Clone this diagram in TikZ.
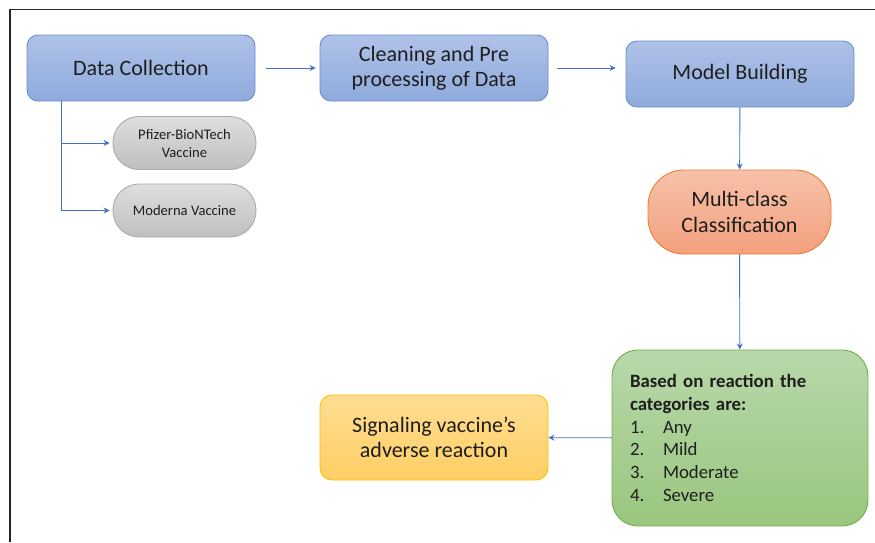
\documentclass[tikz,border=0pt]{standalone}
\usepackage{fontspec}
\setmainfont{Carlito}
\usetikzlibrary{arrows.meta}
\definecolor{lineblue}{HTML}{4472C4}
\definecolor{txt}{HTML}{1E1E1E}

\begin{document}
\begin{tikzpicture}[x=1pt,y=-1pt]
    \tikzstyle{box}=[draw, line width=0.9pt, text=txt, align=center, inner sep=2pt]
    \tikzstyle{bluebox}=[box, rounded corners=11pt, draw=lineblue!80, top color=blue!5!lineblue!42, bottom color=lineblue!60,
      minimum width=228pt, minimum height=66pt, font=\fontsize{22}{24.5}\selectfont]
    \tikzstyle{graybox}=[box, rounded corners=26pt, draw=black!33, top color=black!13, bottom color=black!25,
      minimum width=143pt, minimum height=53pt, font=\fontsize{14.6}{18}\selectfont]
    \tikzstyle{link}=[draw=lineblue, line width=0.9pt, -{Stealth[length=6pt,width=6pt]}]
    \useasboundingbox (0,0) rectangle (875,542);
    % frame
    \draw[line width=1.4pt, black!85] (875,9.5) -- (10,9.5) -- (10,542);
    % top row
    \node[bluebox] (collect) at (141,68) {Data Collection};
    \node[bluebox] (clean) at (434,68) {Cleaning and Pre\\processing of Data};
    \node[bluebox] (model) at (740,74) {Model Building};
    % vaccines
    \node[graybox] (pfizer) at (184.5,143) {Pfizer-BioNTech\\Vaccine};
    \node[graybox] (moderna) at (184.5,210.5) {Moderna Vaccine};
    % classification
    \node[box, rounded corners=36pt, draw={rgb,255:red,237;green,125;blue,49}, top color={rgb,255:red,246;green,194;blue,170},
      bottom color={rgb,255:red,243;green,160;blue,125}, minimum width=183pt, minimum height=84pt,
      font=\fontsize{22}{25.5}\selectfont] (multi) at (739.5,212) {Multi-class\\Classification};
    \node[box, rounded corners=26pt, draw={rgb,255:red,112;green,173;blue,71}, top color={rgb,255:red,184;green,216;blue,170},
      bottom color={rgb,255:red,154;green,198;blue,126}, minimum width=256pt, minimum height=176pt,
      text width=220pt, align=left, font=\fontsize{18.8}{22.7}\selectfont] (cats) at (740,438)
      {\textbf{Based on reaction the}\\\textbf{categories are:}\\
       \makebox[33pt][l]{1.}Any\\\makebox[33pt][l]{2.}Mild\\
       \makebox[33pt][l]{3.}Moderate\\\makebox[33pt][l]{4.}Severe};
    \node[box, rounded corners=12pt, draw={rgb,255:red,255;green,192;blue,0}, top color={rgb,255:red,255;green,221;blue,146},
      bottom color={rgb,255:red,255;green,207;blue,100}, minimum width=228pt, minimum height=85pt,
      font=\fontsize{22}{24.5}\selectfont] (signal) at (434,437.5) {Signaling vaccine's\\adverse reaction};
    % connectors
    \draw[link, shorten <=11pt, shorten >=4pt] (collect.east) -- (clean.west);
    \draw[link, shorten <=9pt, shorten >=10pt] (clean.east) -- (clean.east -| model.west);
    \draw[link] (model) -- (multi);
    \draw[link] (multi) -- (cats);
    \draw[link] (cats) -- (signal);
    \coordinate (branch) at (61,101);
    \draw[link, shorten >=3pt] (branch) |- (pfizer.west);
    \draw[link, shorten >=3pt] (branch) |- (moderna.west);
\end{tikzpicture}
\end{document}
